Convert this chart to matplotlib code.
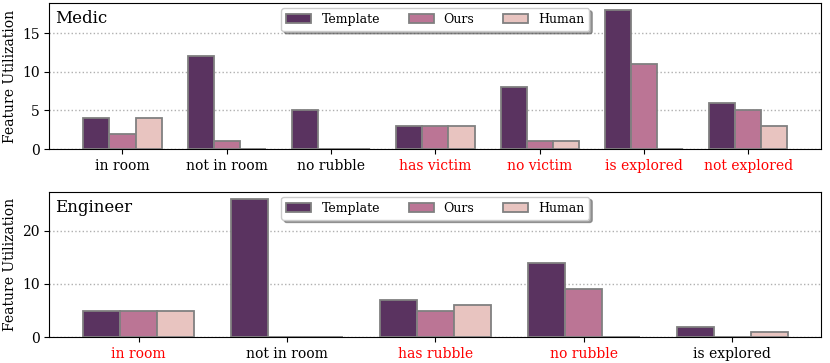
import matplotlib
matplotlib.use("Agg")
import matplotlib.pyplot as plt
import numpy as np

plt.rcParams["font.family"] = "DejaVu Serif"

SERIES = ["Template", "Ours", "Human"]
COLORS = ["#5a3360", "#bb7595", "#e8c4c0"]

medic_labels = ["in room", "not in room", "no rubble", "has victim",
                "no victim", "is explored", "not explored"]
medic_template = [4, 12, 5, 3, 8, 18, 6]
medic_ours = [2, 1, 0, 3, 1, 11, 5]
medic_human = [4, 0, 0, 3, 1, 0, 3]
medic_red = [False, False, False, True, True, True, True]

eng_labels = ["in room", "not in room", "has rubble", "no rubble", "is explored"]
eng_template = [5, 26, 7, 14, 2]
eng_ours = [5, 0, 5, 9, 0]
eng_human = [5, 0, 6, 0, 1]
eng_red = [True, False, True, True, False]


def panel(ax, name, labels, vals, red, pad):
    x = np.arange(len(labels))
    w = 0.25
    for i, (v, c, s) in enumerate(zip(vals, COLORS, SERIES)):
        ax.bar(x + (i - 1) * w, v, w, color=c, edgecolor="#808080",
               linewidth=1.3, label=s, zorder=3)
    ax.set_xlim(-pad, len(labels) - 1 + pad)
    ax.set_ylim(0, max(max(v) for v in vals) * 1.05)
    ax.set_xticks(x)
    ax.set_xticklabels(labels, fontsize=10)
    for t, r in zip(ax.get_xticklabels(), red):
        if r:
            t.set_color("red")
    ax.tick_params(axis="both", labelsize=10)
    ax.yaxis.grid(True, linestyle=":", color="#b0b0b0", linewidth=1, zorder=0)
    ax.set_axisbelow(True)
    ax.set_ylabel("Feature Utilization", fontsize=10)
    ax.text(0.007, 0.95, name, transform=ax.transAxes, fontsize=12,
            va="top", ha="left")
    ax.legend(loc="upper center", ncol=3, fontsize=9, shadow=True,
              fancybox=True, columnspacing=2.3, borderaxespad=0.4,
              framealpha=1)


fig = plt.figure(figsize=(8.3, 3.63), dpi=100)
ax1 = fig.add_axes([0.0596, 0.5895, 0.930, 0.4022])
ax2 = fig.add_axes([0.0596, 0.0708, 0.930, 0.4011])
panel(ax1, "Medic", medic_labels, [medic_template, medic_ours, medic_human],
      medic_red, 0.7)
panel(ax2, "Engineer", eng_labels, [eng_template, eng_ours, eng_human],
      eng_red, 0.6)
ax1.set_yticks([0, 5, 10, 15])
ax2.set_yticks([0, 10, 20])

fig.savefig("out.png", dpi=100, facecolor="white")
